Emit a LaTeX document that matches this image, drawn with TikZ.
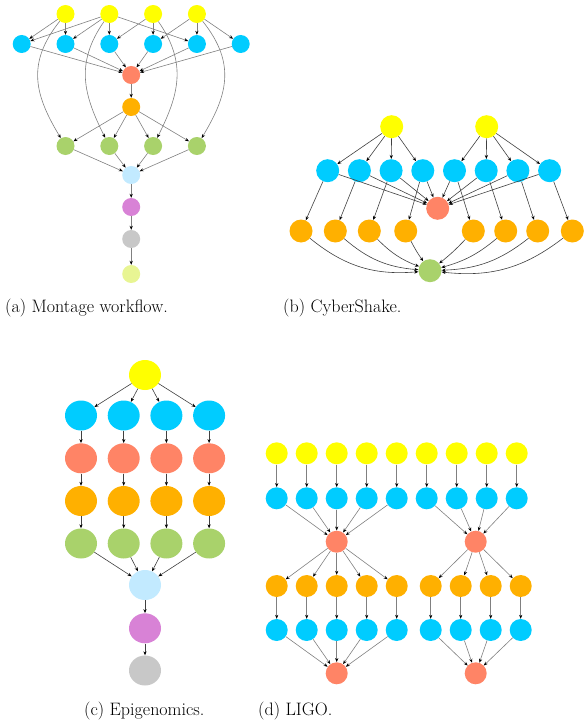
\documentclass[tikz,border=0pt]{standalone}
\usetikzlibrary{arrows.meta,shapes.geometric}

\definecolor{wfyellow}{HTML}{FFFF00}
\definecolor{wfblue}{HTML}{00CCFF}
\definecolor{wfsalmon}{HTML}{FF8466}
\definecolor{wforange}{HTML}{FFB000}
\definecolor{wfgreen}{HTML}{A9D26B}
\definecolor{wflightblue}{HTML}{C2EAFF}
\definecolor{wforchid}{HTML}{D882D6}
\definecolor{wfgray}{HTML}{C8C8C8}
\definecolor{wflime}{HTML}{E8F593}

\begin{document}
\begin{tikzpicture}[x=1pt,y=1pt,
    job/.style={circle,inner sep=0pt,minimum size=#1},
    job/.default=18pt,
    epi/.style={ellipse,inner sep=0pt,minimum width=32pt,minimum height=30pt},
    dep/.style={draw=black!50,line width=0.6pt,-{Stealth[length=4pt,width=3.2pt,black]}},
    depdark/.style={dep,draw=black!75},
    caption/.style={anchor=base west,inner sep=0pt,font=\fontsize{18}{20}\selectfont}]
    \useasboundingbox (0,0) rectangle (584,-725);

    % (a) Montage
    \foreach \i/\x in {1/65.5,2/109.3,3/153.1,4/196.9}{
        \node[job,fill=wfyellow] (my\i) at (\x,-14) {};
        \node[job,fill=wfgreen] (mg\i) at (\x,-146) {};
    }
    \foreach \i/\x in {1/21.7,2/65.5,3/109.3,4/153.1,5/196.9,6/240.7}
        \node[job,fill=wfblue] (mb\i) at (\x,-44) {};
    \node[job,fill=wfsalmon] (mr) at (131.2,-75) {};
    \node[job,fill=wforange] (mo) at (131.2,-107) {};
    \node[job,fill=wflightblue] (mi) at (131.2,-175) {};
    \node[job,fill=wforchid] (ma) at (131.2,-207) {};
    \node[job,fill=wfgray] (ms) at (131.2,-239) {};
    \node[job,fill=wflime] (mj) at (131.2,-274) {};

    \foreach \a/\b in {1/1,1/2,2/1,2/2,2/3,2/5,3/3,3/4,4/4,4/5,4/6}
        \draw[dep] (my\a) -- (mb\b);
    \foreach \b in {1,...,6}
        \draw[dep] (mb\b) -- (mr);
    \draw[dep] (mr) -- (mo);
    \foreach \g in {1,...,4}{
        \draw[dep] (mo) -- (mg\g);
        \draw[dep] (mg\g) -- (mi);
    }
    \draw[dep] (my1) .. controls +(-40,-50) and +(-30,50) .. (mg1);
    \draw[dep] (my2) .. controls +(-35,-50) and +(-25,50) .. (mg2);
    \draw[dep] (my3) .. controls +(35,-50) and +(25,50) .. (mg3);
    \draw[dep] (my4) .. controls +(40,-50) and +(30,50) .. (mg4);
    \draw[dep] (mi) -- (ma);
    \draw[dep] (ma) -- (ms);
    \draw[dep] (ms) -- (mj);

    % (b) CyberShake
    \node[job=23pt,fill=wfyellow] (cy1) at (391.7,-126.7) {};
    \node[job=23pt,fill=wfyellow] (cy2) at (486.7,-126.7) {};
    \foreach \i/\x in {1/327.7,2/359.4,3/391.1,4/422.8,5/454.5,6/486.2,7/517.9,8/549.6}
        \node[job=23pt,fill=wfblue] (cb\i) at (\x,-170.7) {};
    \foreach \i/\x in {1/301,2/335.3,3/369.3,4/405.7,5/473.3,6/505.7,7/537.7,8/572.3}
        \node[job=23pt,fill=wforange] (co\i) at (\x,-231) {};
    \node[job=23pt,fill=wfsalmon] (cr) at (437.7,-208.3) {};
    \node[job=23pt,fill=wfgreen] (cg) at (430,-270.7) {};

    \foreach \b in {1,...,4}
        \draw[depdark] (cy1) -- (cb\b);
    \foreach \b in {5,...,8}
        \draw[depdark] (cy2) -- (cb\b);
    \foreach \b in {1,...,8}{
        \draw[depdark] (cb\b) -- (cr);
        \draw[depdark] (cb\b) -- (co\b);
    }
    \foreach \o/\bend in {1/22,2/18,3/12,4/4}
        \draw[depdark] (co\o) to[bend right=\bend] (cg);
    \foreach \o/\bend in {5/4,6/12,7/18,8/22}
        \draw[depdark] (co\o) to[bend left=\bend] (cg);

    % (c) Epigenomics
    \node[epi,fill=wfyellow] (ey) at (145,-375) {};
    \foreach \i/\x in {1/81,2/123.7,3/166.4,4/209.1}{
        \node[epi,fill=wfblue] (eb\i) at (\x,-415.5) {};
        \node[epi,fill=wfsalmon] (er\i) at (\x,-458.3) {};
        \node[epi,fill=wforange] (eo\i) at (\x,-501) {};
        \node[epi,fill=wfgreen] (eg\i) at (\x,-543.5) {};
        \draw[depdark] (ey) -- (eb\i);
        \draw[depdark] (eb\i) -- (er\i);
        \draw[depdark] (er\i) -- (eo\i);
        \draw[depdark] (eo\i) -- (eg\i);
    }
    \node[epi,fill=wflightblue] (ei) at (145,-585) {};
    \node[epi,fill=wforchid] (ep) at (145,-628.3) {};
    \node[epi,fill=wfgray] (ex) at (145,-670.5) {};
    \foreach \i in {1,...,4}
        \draw[depdark] (eg\i) -- (ei);
    \draw[depdark] (ei) -- (ep);
    \draw[depdark] (ep) -- (ex);

    % (d) LIGO
    \foreach \i in {1,...,9}{
        \pgfmathsetmacro\x{276.7+30*(\i-1)}
        \node[job=22pt,fill=wfyellow] (ly\i) at (\x,-453.3) {};
        \node[job=22pt,fill=wfblue] (lb\i) at (\x,-498.3) {};
        \draw[dep] (ly\i) -- (lb\i);
    }
    \node[job=22pt,fill=wfsalmon] (lr1) at (336.7,-541.7) {};
    \node[job=22pt,fill=wfsalmon] (lr2) at (475.7,-541.7) {};
    \foreach \i/\x in {1/276.7,2/306.7,3/336.7,4/366.7,5/396.7,6/430.7,7/460.7,8/490.7,9/520.7}{
        \node[job=22pt,fill=wforange] (lo\i) at (\x,-586) {};
        \node[job=22pt,fill=wfblue] (lc\i) at (\x,-630) {};
        \draw[dep] (lo\i) -- (lc\i);
    }
    \node[job=22pt,fill=wfsalmon] (lf1) at (336.7,-673.3) {};
    \node[job=22pt,fill=wfsalmon] (lf2) at (475.7,-673.3) {};
    \foreach \i in {1,...,5}{
        \draw[dep] (lb\i) -- (lr1);
        \draw[dep] (lr1) -- (lo\i);
        \draw[dep] (lc\i) -- (lf1);
    }
    \foreach \i in {6,...,9}{
        \draw[dep] (lb\i) -- (lr2);
        \draw[dep] (lr2) -- (lo\i);
        \draw[dep] (lc\i) -- (lf2);
    }

    \node[caption] (capa) at (5,-312) {(a) Montage workflow.};
    \node[caption] (capb) at (283,-312) {(b) CyberShake.};
    \node[caption] (capc) at (84,-715) {(c) Epigenomics.};
    \node[caption] (capd) at (258,-715) {(d) LIGO.};
\end{tikzpicture}
\end{document}
